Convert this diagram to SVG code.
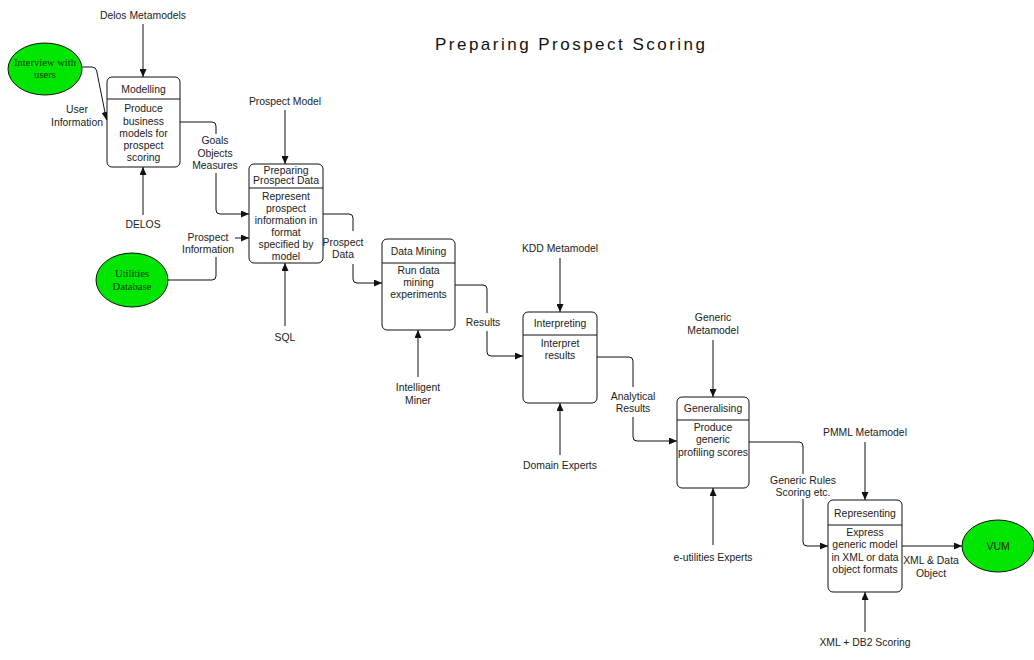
<svg xmlns="http://www.w3.org/2000/svg" width="1034" height="660" viewBox="0 0 1034 660">
<style>
text{font-family:"Liberation Sans",Arial,sans-serif;font-size:10.4px;fill:#222;text-anchor:middle}
.t{font-size:17px;fill:#111}
.e{font-family:"Liberation Serif","Times New Roman",serif;font-size:10.6px;fill:#0a3a0a}
.box{fill:#fff;stroke:#111;stroke-width:1}
.div{stroke:#111;stroke-width:1}
.ell{fill:#00e600;stroke:#111;stroke-width:1}
.c{fill:none;stroke:#111;stroke-width:1}
</style>
<defs>
<marker id="ah" viewBox="0 0 8 7" refX="8" refY="3.5" markerWidth="8" markerHeight="7" markerUnits="userSpaceOnUse" orient="auto">
<path d="M0,0 L8,3.5 L0,7 z" fill="#111"/>
</marker>
</defs>
<rect width="1034" height="660" fill="#fff"/>
<text class="t" x="570" y="50" textLength="270" lengthAdjust="spacing">Preparing Prospect Scoring</text>

<g id="connectors">
<path class="c" d="M143,24 L143,77" marker-end="url(#ah)"/>
<path class="c" d="M143,215 L143,167" marker-end="url(#ah)"/>
<path class="c" d="M82,67 L92,67 Q96,67 96.7,71 L106.5,120" marker-end="url(#ah)"/>
<path class="c" d="M180,122 L212,122 Q216,122 216,126 L216,134"/>
<path class="c" d="M216,173 L216,210 Q216,214 220,214 L249,214" marker-end="url(#ah)"/>
<path class="c" d="M235,238 L249,238" marker-end="url(#ah)"/>
<path class="c" d="M168,280 L212,280 Q216,280 216,276 L216,257"/>
<path class="c" d="M285,110 L285,164" marker-end="url(#ah)"/>
<path class="c" d="M285,326 L285,263" marker-end="url(#ah)"/>
<path class="c" d="M323,214 L349,214 Q353,214 353,218 L353,231"/>
<path class="c" d="M353,264 L353,279 Q353,283 357,283 L382,283" marker-end="url(#ah)"/>
<path class="c" d="M455,285 L483,285 Q487,285 487,289 L487,313"/>
<path class="c" d="M487,331 L487,352 Q487,356 491,356 L523,356" marker-end="url(#ah)"/>
<path class="c" d="M418,377 L418,330" marker-end="url(#ah)"/>
<path class="c" d="M560,258 L560,312" marker-end="url(#ah)"/>
<path class="c" d="M560,455 L560,403" marker-end="url(#ah)"/>
<path class="c" d="M597,357 L629,357 Q633,357 633,361 L633,387"/>
<path class="c" d="M633,417 L633,437 Q633,441 637,441 L677,441" marker-end="url(#ah)"/>
<path class="c" d="M713,340 L713,397" marker-end="url(#ah)"/>
<path class="c" d="M713,545 L713,488" marker-end="url(#ah)"/>
<path class="c" d="M749,442 L799,442 Q803,442 803,446 L803,474"/>
<path class="c" d="M803,499 L803,542 Q803,546 807,546 L828,546" marker-end="url(#ah)"/>
<path class="c" d="M865,442 L865,500" marker-end="url(#ah)"/>
<path class="c" d="M865,632 L865,592" marker-end="url(#ah)"/>
<path class="c" d="M902,546 L962,546" marker-end="url(#ah)"/>
</g>

<g id="interview">
<ellipse class="ell" cx="45" cy="69" rx="37" ry="26"/>
<text class="e" x="45" y="66">Interview with</text>
<text class="e" x="45" y="78">users</text>
</g>
<g id="utilities">
<ellipse class="ell" cx="132" cy="280" rx="36" ry="27"/>
<text class="e" x="132" y="277">Utilities</text>
<text class="e" x="132" y="290">Database</text>
</g>
<g id="vum">
<ellipse class="ell" cx="998" cy="546" rx="36" ry="26"/>
<text x="998" y="550">VUM</text>
</g>

<g id="modelling">
<rect class="box" x="107" y="77" width="73" height="90" rx="5"/>
<line class="div" x1="107" y1="99" x2="180" y2="99"/>
<text x="143.5" y="93">Modelling</text>
<text x="143.5" y="112">Produce</text>
<text x="143.5" y="125">business</text>
<text x="143.5" y="137">models for</text>
<text x="143.5" y="149">prospect</text>
<text x="143.5" y="161">scoring</text>
</g>
<g id="preparing">
<rect class="box" x="249" y="164" width="74" height="99" rx="5"/>
<line class="div" x1="249" y1="188" x2="323" y2="188"/>
<text x="286" y="174">Preparing</text>
<text x="286" y="184">Prospect Data</text>
<text x="286" y="200">Represent</text>
<text x="286" y="212">prospect</text>
<text x="286" y="224">information in</text>
<text x="286" y="236">format</text>
<text x="286" y="248">specified by</text>
<text x="286" y="260">model</text>
</g>
<g id="datamining">
<rect class="box" x="382" y="239" width="73" height="91" rx="5"/>
<line class="div" x1="382" y1="263" x2="455" y2="263"/>
<text x="418.5" y="255">Data Mining</text>
<text x="418.5" y="274">Run data</text>
<text x="418.5" y="286">mining</text>
<text x="418.5" y="298">experiments</text>
</g>
<g id="interpreting">
<rect class="box" x="523" y="312" width="74" height="91" rx="5"/>
<line class="div" x1="523" y1="335" x2="597" y2="335"/>
<text x="560" y="327">Interpreting</text>
<text x="560" y="347">Interpret</text>
<text x="560" y="359">results</text>
</g>
<g id="generalising">
<rect class="box" x="677" y="397" width="72" height="91" rx="5"/>
<line class="div" x1="677" y1="420" x2="749" y2="420"/>
<text x="713" y="412">Generalising</text>
<text x="713" y="431">Produce</text>
<text x="713" y="443">generic</text>
<text x="713" y="456">profiling scores</text>
</g>
<g id="representing">
<rect class="box" x="828" y="500" width="74" height="92" rx="5"/>
<line class="div" x1="828" y1="525" x2="902" y2="525"/>
<text x="865" y="517">Representing</text>
<text x="865" y="536">Express</text>
<text x="865" y="548">generic model</text>
<text x="865" y="561">in XML or data</text>
<text x="865" y="573">object formats</text>
</g>

<g id="labels">
<text x="143" y="19">Delos Metamodels</text>
<text x="77" y="113">User</text>
<text x="77" y="126">Information</text>
<text x="215" y="144">Goals</text>
<text x="215" y="157">Objects</text>
<text x="215" y="169">Measures</text>
<text x="143" y="228">DELOS</text>
<text x="208" y="241">Prospect</text>
<text x="208" y="253">Information</text>
<text x="285" y="105">Prospect Model</text>
<text x="285" y="341">SQL</text>
<text x="343" y="246">Prospect</text>
<text x="343" y="258">Data</text>
<text x="483" y="326">Results</text>
<text x="418" y="391">Intelligent</text>
<text x="418" y="404">Miner</text>
<text x="560" y="252">KDD Metamodel</text>
<text x="633" y="400">Analytical</text>
<text x="633" y="412">Results</text>
<text x="560" y="469">Domain Experts</text>
<text x="713" y="321">Generic</text>
<text x="713" y="334">Metamodel</text>
<text x="803" y="484">Generic Rules</text>
<text x="803" y="496">Scoring etc.</text>
<text x="713" y="561">e-utilities Experts</text>
<text x="865" y="436">PMML Metamodel</text>
<text x="865" y="646">XML + DB2 Scoring</text>
<text x="931" y="564">XML &amp; Data</text>
<text x="931" y="577">Object</text>
</g>
</svg>
